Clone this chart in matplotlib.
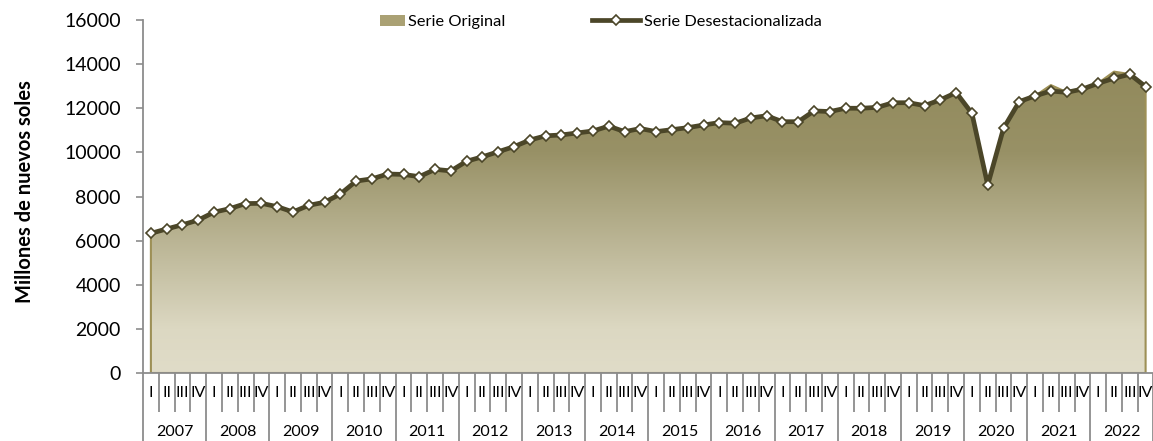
import numpy as np
import matplotlib
matplotlib.use("Agg")
import matplotlib.pyplot as plt
from matplotlib.patches import Patch
from matplotlib.lines import Line2D
from matplotlib.ticker import FixedLocator

plt.rcParams['font.family'] = ['Lato', 'DejaVu Sans']

years = [str(y) for y in range(2007, 2023)]
quarters = ["I", "II", "III", "IV"]

# Serie desestacionalizada, millones de nuevos soles (2007-I .. 2022-IV)
desestacionalizada = [
    6330, 6530, 6720, 6930,
    7290, 7450, 7680, 7690,
    7540, 7300, 7600, 7740,
    8110, 8700, 8800, 9020,
    9000, 8900, 9230, 9160,
    9600, 9800, 10030, 10260,
    10560, 10750, 10790, 10880,
    10970, 11190, 10940, 11080,
    10940, 11030, 11120, 11240,
    11350, 11320, 11560, 11660,
    11390, 11390, 11880, 11850,
    12000, 12000, 12040, 12250,
    12250, 12120, 12380, 12710,
    11770, 8520, 11090, 12300,
    12560, 12780, 12720, 12870,
    13130, 13360, 13540, 12980,
]

# Serie original
original = [
    6300, 6510, 6700, 6910,
    7270, 7430, 7660, 7680,
    7520, 7290, 7580, 7720,
    8090, 8680, 8780, 9000,
    8990, 8890, 9210, 9150,
    9580, 9790, 10010, 10240,
    10540, 10730, 10780, 10870,
    10960, 11170, 10930, 11060,
    10930, 11020, 11110, 11230,
    11340, 11310, 11550, 11650,
    11380, 11380, 11860, 11840,
    11990, 11990, 12030, 12240,
    12240, 12110, 12370, 12700,
    11760, 8500, 11080, 12290,
    12560, 13050, 12730, 12880,
    13140, 13660, 13550, 12980,
]

line_color = "#4b4628"
edge_color = "#9d9056"
grid_gray = "#8c8c8c"

W, H = 1153, 441
fig = plt.figure(figsize=(W / 100, H / 100), dpi=100)
ax = fig.add_axes([143 / W, 68 / H, 1010.5 / W, 353 / H])

n = len(desestacionalizada)
x = np.arange(n)

# area with vertical gradient, clipped to the original series
area = ax.fill_between(x, original, 0, facecolor="none", edgecolor=edge_color,
                       linewidth=1.5, zorder=2)
top = max(original)
stops_v = [0, 2000, 10000, top]
stops_c = np.array([[224, 220, 200], [220, 216, 194], [152, 145, 102], [146, 138, 92]]) / 255
levels = np.linspace(0, top, 300)
grad = np.stack([np.interp(levels, stops_v, stops_c[:, k]) for k in range(3)], axis=-1)
grad = grad[:, None, :]
img = ax.imshow(grad, extent=[0, n - 1, 0, top], origin="lower", aspect="auto",
                interpolation="bilinear", zorder=1)
img.set_clip_path(area.get_paths()[0], transform=ax.transData)

ax.plot(x, desestacionalizada, color=line_color, linewidth=3.4, marker="D",
        markersize=5, markerfacecolor="white", markeredgecolor=line_color,
        markeredgewidth=1.2, zorder=3)

ax.set_xlim(-0.5, n - 0.5)
ax.set_ylim(0, 16000)
ax.set_yticks(range(0, 16001, 2000))
ax.tick_params(axis="y", direction="out", length=5, width=1.2, color=grid_gray,
               labelsize=14, pad=11)

for s in ["top", "right"]:
    ax.spines[s].set_visible(False)
for s in ["left", "bottom"]:
    ax.spines[s].set_color(grid_gray)
    ax.spines[s].set_linewidth(1.3)

# two-level category axis: year separators long, quarter separators short
year_edges = [4 * i - 0.5 for i in range(len(years) + 1)]
quarter_edges = [i - 0.5 for i in range(n + 1) if i % 4 != 0]
ax.xaxis.set_major_locator(FixedLocator(year_edges))
ax.xaxis.set_minor_locator(FixedLocator(quarter_edges))
ax.tick_params(axis="x", which="major", length=49, width=1.3, color=grid_gray,
               labelbottom=False)
ax.tick_params(axis="x", which="minor", length=28, width=1.3, color=grid_gray)

tr = ax.get_xaxis_transform()
for i in range(n):
    ax.text(i, -20 / 353, quarters[i % 4], transform=tr, ha="center", va="center",
            fontsize=11.5)
for j, yr in enumerate(years):
    ax.text(4 * j + 1.5, -59 / 353, yr, transform=tr, ha="center", va="center",
            fontsize=11.5)

fig.text(25 / W, 1 - 192 / H, "Millones de nuevos soles", rotation=90,
         ha="center", va="center", fontsize=14.5, fontweight="bold")

# legend entries placed one by one
fs = 11.8
fs_px = fs * 100 / 72
fig.legend(handles=[Patch(facecolor="#aaa174", edgecolor="none")],
           labels=["Serie Original"], loc="center left",
           bbox_to_anchor=(380 / W, 1 - 22 / H), frameon=False,
           fontsize=fs, borderpad=0, borderaxespad=0,
           handlelength=25 / fs_px, handleheight=10 / fs_px,
           handletextpad=3 / fs_px)
fig.legend(handles=[Line2D([], [], color=line_color, linewidth=3.4, marker="D",
                           markersize=5, markerfacecolor="white",
                           markeredgecolor=line_color, markeredgewidth=1.2)],
           labels=["Serie Desestacionalizada"], loc="center left",
           bbox_to_anchor=(592 / W, 1 - 22 / H), frameon=False,
           fontsize=fs, borderpad=0, borderaxespad=0,
           handlelength=48 / fs_px, handletextpad=4 / fs_px)

fig.savefig("out.png", dpi=100)
